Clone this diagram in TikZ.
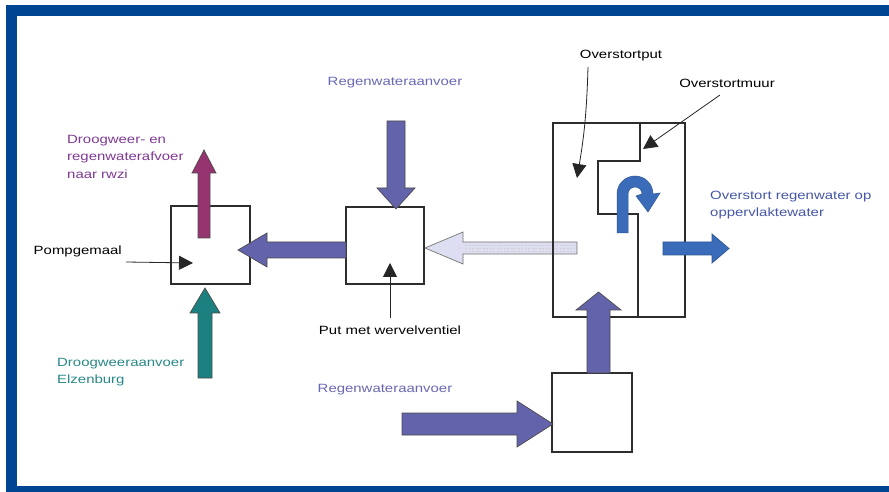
\documentclass[tikz,border=0pt]{standalone}
\usepackage{fontspec}
\setmainfont{Liberation Sans}[FakeStretch=1.25]
\usetikzlibrary{arrows.meta}
\definecolor{framec}{RGB}{0,69,145}
\definecolor{boxc}{RGB}{45,45,45}
\definecolor{slate}{RGB}{98,99,170}
\definecolor{magc}{RGB}{150,52,112}
\definecolor{tealc}{RGB}{28,128,128}
\definecolor{ublue}{RGB}{58,108,186}
\definecolor{lightc}{RGB}{222,222,242}
\definecolor{txtpurple}{RGB}{128,56,150}
\definecolor{txtslate}{RGB}{104,104,180}
\definecolor{txtteal}{RGB}{40,136,136}
\definecolor{txtblue}{RGB}{70,86,168}
% horizontal block arrow: style, x start, x head base, x tip, y centre, shaft half, head half
\newcommand\harrowblk[7]{\draw[#1] (#2,{#5-#6}) -- (#3,{#5-#6}) -- (#3,{#5-#7}) -- (#4,#5) -- (#3,{#5+#7}) -- (#3,{#5+#6}) -- (#2,{#5+#6}) -- cycle;}
% vertical block arrow: style, y start, y head base, y tip, x centre, shaft half, head half
\newcommand\varrowblk[7]{\draw[#1] ({#5-#6},#2) -- ({#5-#6},#3) -- ({#5-#7},#3) -- (#5,#4) -- ({#5+#7},#3) -- ({#5+#6},#3) -- ({#5+#6},#2) -- cycle;}
\begin{document}
\begin{tikzpicture}[x=1bp,y=-1bp,
  lbl/.style={font=\fontsize{12}{17.5}\selectfont, inner sep=0pt},
  boxn/.style={draw=boxc, line width=1.6bp, inner sep=0pt},
  blk/.style={draw=black!70, line width=0.7bp},
  callout/.style={draw=black!85, line width=0.8bp, -{Triangle[length=14bp,width=14bp]}}]
\useasboundingbox (0,0) rectangle (889,492);
\fill[white] (0,0) rectangle (889,492);
% frame
\fill[framec] (6,5) rectangle (889,16);
\fill[framec] (6,5) rectangle (17,492);
\fill[framec] (6,486) rectangle (889,492);

% light arrow from overstortput to put (under the wall)
\harrowblk{blk, draw=black!55, fill=lightc}{577}{463}{425}{248}{6}{16}
\foreach \yy in {245,248,251} \draw[black!18, line width=0.6bp, dash pattern=on 2bp off 1.5bp] (465,\yy) -- (575,\yy);

% boxes
\node[boxn, minimum width=79bp, minimum height=78bp] (pomp) at (210.5,245) {};
\node[boxn, minimum width=78bp, minimum height=77bp] (put) at (385,245.5) {};
\node[boxn, line width=2.2bp, minimum width=132bp, minimum height=194bp] (ostput) at (619,220) {};
\node[boxn, minimum width=80bp, minimum height=79bp] (bbox) at (592,412.5) {};
% inner overflow wall
\draw[boxc, line width=1.8bp] (ostput.north -| 640,0) -- (640,161) -- (598,161) -- (598,214) -- (638,214) -- (ostput.south -| 638,0);

% block arrows
\varrowblk{blk, fill=magc}{238}{173}{150}{204}{6}{12}
\varrowblk{blk, fill=tealc}{378}{313}{288}{205}{7}{15}
\harrowblk{blk, fill=slate}{346}{267}{238}{250}{8}{17}
\varrowblk{blk, fill=slate}{121}{188}{209}{396}{9}{19}
\varrowblk{blk, fill=slate}{373}{310}{292}{598.5}{11.5}{22.5}
\harrowblk{blk, fill=slate}{402}{517}{553}{424}{11}{23}
\harrowblk{blk, draw=ublue!80!black, fill=ublue}{663}{712}{729}{248.5}{6.5}{14.5}
% U-turn arrow
\fill[ublue, draw=ublue!80!black, line width=0.5bp] (617,233) -- (617,194) arc[start angle=180, end angle=360, radius=18] -- (660,193) -- (648,212) -- (636,196) -- (642,194) arc[start angle=0, end angle=-180, radius=7] -- (628,233) -- cycle;

% labels
\node[lbl, text=txtslate] (rwtop) at (395,83) {Regenwateraanvoer};
\node[lbl, text=txtslate] (rwbot) at (385,390) {Regenwateraanvoer};
\node[lbl, text=txtpurple, align=left, anchor=north west] (dwafv) at (67,135) {Droogweer- en\\regenwaterafvoer\\naar rwzi};
\node[lbl, text=txtteal, align=left, anchor=north west] (dwaanv) at (57,358) {Droogweeraanvoer\\Elzenburg};
\node[lbl, text=txtblue, align=left, anchor=north west] (ovtxt) at (710,191) {Overstort regenwater op\\oppervlaktewater};
\node[lbl, anchor=east] (pomplbl) at (122,251) {Pompgemaal};
\node[lbl] (putlbl) at (390,330) {Put met wervelventiel};
\node[lbl] (ostlbl) at (621,56) {Overstortput};
\node[lbl] (muurlbl) at (727,83) {Overstortmuur};

% callouts
\coordinate (pompstart) at (126,262);
\coordinate (pomppt) at (193,263);
\coordinate (putstart) at (390,318);
\coordinate (putpt) at (390,263);
\coordinate (oststart) at (588,67);
\coordinate (ostpt) at (577,178);
\coordinate (muurstart) at (720,95);
\coordinate (muurpt) at (643,149);
\draw[callout] (pompstart) -- (pomppt);
\draw[callout] (putstart) -- (putpt);
\draw[callout] (oststart) to[bend left=4] (ostpt);
\draw[callout] (muurstart) -- (muurpt);
\end{tikzpicture}
\end{document}
